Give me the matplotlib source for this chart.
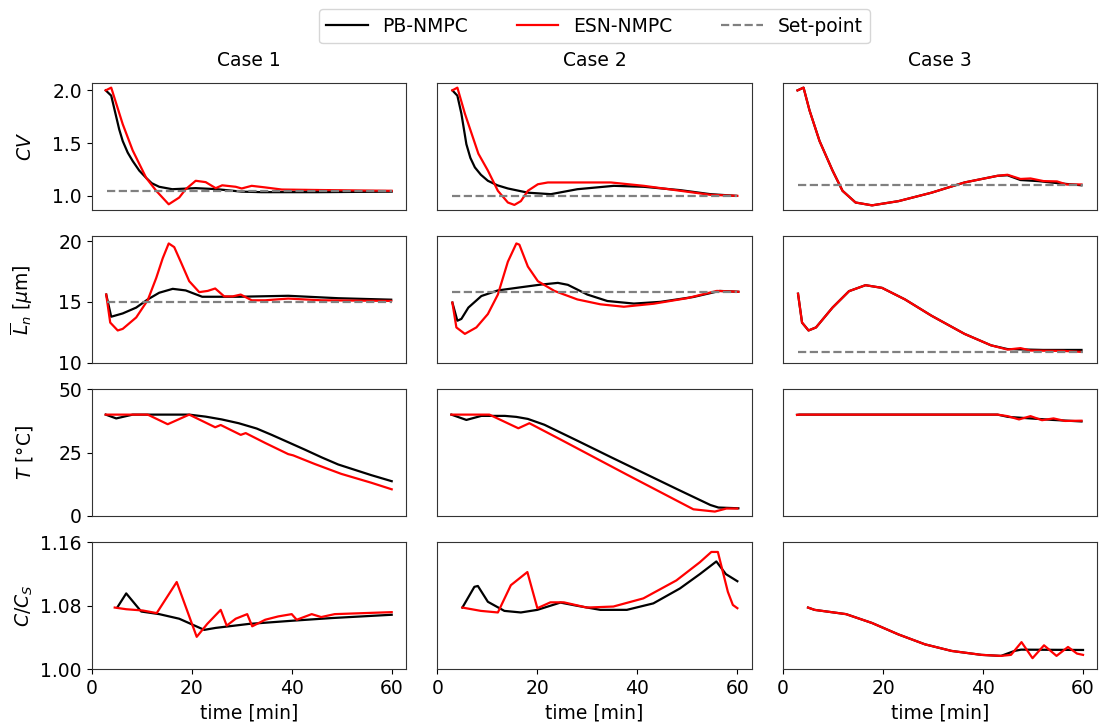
import numpy as np
import matplotlib
matplotlib.use("Agg")
import matplotlib.pyplot as plt
from matplotlib.ticker import FormatStrFormatter

# ---- Case 1 ----
t_cv1_pb = [2.8, 3.9, 4.9, 5.5, 6.2, 7.2, 8.2, 9.5, 10.9, 12, 13.5, 16.1, 20.8, 24.8, 30, 34, 45, 60]
cv1_pb = [2.0, 1.95, 1.75, 1.63, 1.52, 1.41, 1.33, 1.24, 1.17, 1.12, 1.086, 1.063, 1.073, 1.064, 1.04, 1.035,
          1.035, 1.04]
t_cv1_esn = [2.8, 3.9, 6.2, 8.2, 10.9, 12.9, 15.4, 17.5, 18.8, 20.8, 22.8, 24.8, 26.1, 28.8, 30, 32, 34.7, 38, 46, 60]
cv1_esn = [2.0, 2.026, 1.68, 1.43, 1.17, 1.048, 0.92, 0.984, 1.063, 1.143, 1.13, 1.073, 1.1, 1.086, 1.07, 1.095,
           1.08, 1.06, 1.055, 1.048]

t_ln1_pb = [2.9, 3.9, 6.2, 8.9, 11.2, 13.5, 16.2, 18.8, 22.1, 29.4, 39.3, 49.3, 59.9]
ln1_pb = [15.6, 13.78, 14.05, 14.53, 15.2, 15.75, 16.07, 15.94, 15.42, 15.42, 15.5, 15.3, 15.18]
t_ln1_esn = [2.9, 3.7, 5.2, 6.2, 8.9, 11.2, 12.9, 14.2, 15.4, 16.5, 17.8, 19.5, 21.5, 23.2, 24.7, 26.5, 28.2,
             29.8, 32, 34.7, 39.3, 45.9, 59.9]
ln1_esn = [15.6, 13.3, 12.65, 12.78, 13.72, 15.14, 16.96, 18.58, 19.8, 19.5, 18.3, 16.7, 15.8, 15.9, 16.1, 15.45,
           15.45, 15.6, 15.13, 15.13, 15.27, 15.13, 15.08]

t_T1_pb = [2.8, 4.9, 8.2, 19.5, 22.8, 26, 29.4, 33, 36, 39.3, 42.7, 46, 49.3, 55.9, 60]
T1_pb = [40, 38.5, 40, 40, 39.2, 38.1, 36.6, 34.5, 32, 29.1, 26.1, 23.1, 20.3, 16.1, 13.7]
t_T1_esn = [2.8, 11.2, 15.2, 19.5, 24.7, 25.8, 29.8, 30.8, 34.7, 39.3, 40.3, 44.6, 49.9, 55.9, 60]
T1_esn = [40, 40, 36.2, 40, 35, 35.9, 32, 32.7, 28.8, 24.4, 23.9, 20.5, 16.6, 13.1, 10.5]

t_c1_pb = [5.1, 6.9, 9.9, 13.5, 17.5, 20.2, 22.5, 24.8, 31.4, 40, 47.9, 60]
c1_pb = [1.0777, 1.0956, 1.0727, 1.0694, 1.0636, 1.056, 1.0495, 1.052, 1.057, 1.061, 1.0644, 1.0686]
t_c1_esn = [4.6, 6.9, 10.2, 13, 17, 21, 23.1, 25.8, 27, 28.8, 31.1, 32.1, 34.7, 37.3, 40, 41, 44, 45.9, 48.6,
            54.5, 60]
c1_esn = [1.0777, 1.0756, 1.074, 1.0707, 1.110, 1.0407, 1.057, 1.0748, 1.0549, 1.0636, 1.0694, 1.054, 1.0623,
          1.0665, 1.0694, 1.0623, 1.0694, 1.0657, 1.0694, 1.0707, 1.0719]

# ---- Case 2 ----
t_cv2_pb = [3, 4, 4.8, 5.8, 6.6, 7.5, 8.7, 10.1, 12, 14.1, 18.1, 22.7, 28, 35.3, 41.3, 48.6, 54.6, 59.8]
cv2_pb = [2.0, 1.95, 1.78, 1.49, 1.36, 1.27, 1.2, 1.143, 1.1, 1.07, 1.03, 1.016, 1.063, 1.095, 1.086, 1.054,
          1.016, 1.0]
t_cv2_esn = [3, 4, 5.5, 8.2, 10.1, 12.1, 14.1, 15.4, 16.7, 18.1, 20.1, 22.1, 34.7, 41.3, 48.6, 54.6, 60]
cv2_esn = [2.0, 2.026, 1.78, 1.40, 1.24, 1.048, 0.937, 0.914, 0.95, 1.048, 1.11, 1.127, 1.127, 1.095, 1.048,
           1.01, 1.0]

t_ln2_pb = [3, 4, 4.8, 6.2, 8.8, 12.1, 16.7, 20.7, 24.1, 26.1, 30, 34, 39.3, 44.6, 51.2, 56.5, 60.2]
ln2_pb = [14.94, 13.45, 13.6, 14.53, 15.48, 15.94, 16.2, 16.42, 16.56, 16.4, 15.6, 15.07, 14.86, 15.0, 15.4,
          15.9, 15.83]
t_ln2_esn = [3, 3.8, 5.5, 7.8, 10.1, 12.1, 14.1, 15.8, 16.4, 18.1, 20.1, 23.4, 28, 32.6, 37.3, 43.3, 49.9,
             55.9, 60.2]
ln2_esn = [14.94, 12.9, 12.37, 12.9, 14.0, 15.6, 18.3, 19.8, 19.7, 17.9, 16.7, 15.9, 15.2, 14.8, 14.6, 14.85,
           15.3, 15.9, 15.83]

t_T2_pb = [2.8, 5.8, 8.8, 13.5, 15.8, 18.1, 21.4, 28, 34.6, 41.3, 47.9, 54.6, 56.2, 60.2]
T2_pb = [40, 37.9, 39.5, 39.5, 39.1, 38.3, 36, 29.7, 23.3, 16.9, 10.6, 4.3, 3.3, 3]
t_T2_esn = [2.8, 10.4, 16.2, 18.4, 24.7, 31.3, 37.9, 44.6, 51.2, 55.5, 57.8, 60]
T2_esn = [40, 40, 34.6, 36.6, 30.1, 23.2, 16.3, 9.4, 2.6, 1.7, 2.9, 2.9]

t_c2_pb = [5, 7.4, 8.1, 10.1, 13.4, 16.7, 20, 24.6, 27.9, 32.6, 37.9, 43.2, 48.5, 52.5, 55.8, 57.7, 60]
c2_pb = [1.0777, 1.1039, 1.105, 1.085, 1.0735, 1.0715, 1.0748, 1.084, 1.080, 1.0748, 1.0748, 1.083, 1.1018,
         1.12, 1.136, 1.12, 1.111]
t_c2_esn = [5, 8.7, 12.1, 14.7, 18, 20, 22.6, 25.3, 29.9, 35.2, 41.2, 47.8, 52.5, 54.8, 56.1, 58.1, 59.1, 60]
c2_esn = [1.0777, 1.0735, 1.0715, 1.106, 1.1226, 1.0769, 1.0843, 1.0843, 1.0777, 1.079, 1.0893, 1.112, 1.135,
          1.148, 1.148, 1.0976, 1.081, 1.0769]

# ---- Case 3 ----
t_cv3_esn = [2.9, 4.1, 5.3, 7.3, 9.9, 11.9, 14.5, 17.8, 23.1, 29.7, 36.3, 42.9, 44.9, 47.5, 49.5, 52.1, 54.8,
             56.7, 59.7]
cv3_esn = [2.0, 2.026, 1.81, 1.52, 1.24, 1.048, 0.937, 0.91, 0.95, 1.03, 1.127, 1.19, 1.2, 1.16, 1.165, 1.14,
           1.137, 1.108, 1.108]
t_cv3_pb = [2.9, 4.1, 5.3, 7.3, 9.9, 11.9, 14.5, 17.8, 23.1, 29.7, 36.3, 42.9, 44.9, 47.5, 51, 55, 59.7]
cv3_pb = [2.0, 2.026, 1.81, 1.52, 1.24, 1.048, 0.937, 0.91, 0.95, 1.03, 1.127, 1.19, 1.195, 1.15, 1.14, 1.12,
          1.1]

t_ln3_esn = [3, 3.8, 5.1, 6.6, 9.9, 13.2, 16.5, 19.8, 24.4, 29.7, 36.3, 41.6, 44.9, 47.5, 49.5, 56.1, 59.7]
ln3_esn = [15.67, 13.3, 12.65, 12.9, 14.53, 15.88, 16.37, 16.15, 15.2, 13.86, 12.37, 11.43, 11.08, 11.2, 11.0,
           10.97, 10.89]
t_ln3_pb = [3, 3.8, 5.1, 6.6, 9.9, 13.2, 16.5, 19.8, 24.4, 29.7, 36.3, 41.6, 44.9, 47, 52, 59.7]
ln3_pb = [15.67, 13.3, 12.65, 12.9, 14.53, 15.88, 16.37, 16.15, 15.2, 13.86, 12.37, 11.43, 11.12, 11.1, 11.05,
          11.05]

t_T3_esn = [2.8, 3.3, 42.9, 44.9, 47.2, 49.5, 51.8, 54.1, 56.4, 59.7]
T3_esn = [39.9, 40, 40, 39.4, 38.1, 39.4, 37.8, 38.5, 37.5, 37.6]
t_T3_pb = [2.8, 3.3, 42.9, 45, 49.5, 54, 59.7]
T3_pb = [39.9, 40, 40, 39.1, 38.5, 37.9, 37.3]

t_c3_esn = [5, 6.3, 12.6, 17.8, 23.1, 28.4, 33.7, 39.7, 43.6, 45.6, 47.7, 49.9, 52.2, 54.7, 57, 58.8, 60]
c3_esn = [1.0777, 1.0748, 1.0694, 1.0582, 1.0437, 1.0312, 1.0229, 1.0179, 1.0166, 1.0179, 1.034, 1.0137, 1.03,
          1.0166, 1.0279, 1.0195, 1.0179]
t_c3_pb = [5, 6.3, 12.6, 17.8, 23.1, 28.4, 33.7, 39.7, 43.6, 46.3, 47.6, 60]
c3_pb = [1.0777, 1.0748, 1.0694, 1.0582, 1.0437, 1.0312, 1.0229, 1.0179, 1.0166, 1.0229, 1.0245, 1.0241]

# set-points (CV, Ln) for each case, drawn from t=3 to t=60
sp_time = [3, 60]
sp_cv = [1.05, 1.0, 1.1]
sp_ln = [15.0, 15.8, 10.9]

case_titles = ['Case 1', 'Case 2', 'Case 3']
row_labels = [r'$CV$', r'$\overline{L}_n$ [$\mu$m]', r'$T$ [°C]', r'$C/C_S$']
row_ylims = [(0.87, 2.07), (10, 20.4), (0, 50), (1.0, 1.16)]
row_yticks = [[1.0, 1.5, 2.0], [10, 15, 20], [0, 25, 50], [1.00, 1.08, 1.16]]

pb = [
    [(t_cv1_pb, cv1_pb), (t_cv2_pb, cv2_pb), (t_cv3_pb, cv3_pb)],
    [(t_ln1_pb, ln1_pb), (t_ln2_pb, ln2_pb), (t_ln3_pb, ln3_pb)],
    [(t_T1_pb, T1_pb), (t_T2_pb, T2_pb), (t_T3_pb, T3_pb)],
    [(t_c1_pb, c1_pb), (t_c2_pb, c2_pb), (t_c3_pb, c3_pb)],
]
esn = [
    [(t_cv1_esn, cv1_esn), (t_cv2_esn, cv2_esn), (t_cv3_esn, cv3_esn)],
    [(t_ln1_esn, ln1_esn), (t_ln2_esn, ln2_esn), (t_ln3_esn, ln3_esn)],
    [(t_T1_esn, T1_esn), (t_T2_esn, T2_esn), (t_T3_esn, T3_esn)],
    [(t_c1_esn, c1_esn), (t_c2_esn, c2_esn), (t_c3_esn, c3_esn)],
]
setpoints = [sp_cv, sp_ln, None, None]

plt.rcParams['font.size'] = 13.5
fig, axes = plt.subplots(4, 3, figsize=(11.05, 7.28), dpi=100, sharex=True)
fig.subplots_adjust(left=0.083, right=0.993, top=0.886, bottom=0.081, wspace=0.1, hspace=0.21)

for r in range(4):
    for c in range(3):
        ax = axes[r, c]
        l1, = ax.plot(*pb[r][c], color='black', lw=1.6, label='PB-NMPC')
        l2, = ax.plot(*esn[r][c], color='red', lw=1.6, label='ESN-NMPC')
        if setpoints[r] is not None:
            l3, = ax.plot(sp_time, [setpoints[r][c]] * 2, color='gray', ls='--', lw=1.6, label='Set-point')
        ax.set_ylim(row_ylims[r])
        ax.set_yticks(row_yticks[r])
        ax.set_xlim(0.15, 62.85)
        ax.set_xticks([0, 20, 40, 60])
        for s in ax.spines.values():
            s.set_color('#333333')
        if c == 0:
            ax.set_ylabel(row_labels[r])
        else:
            ax.tick_params(left=False, labelleft=False)
        if r < 3:
            ax.tick_params(bottom=False, labelbottom=False)
        else:
            ax.set_xlabel('time [min]')
        if r == 0:
            ax.set_title(case_titles[c], fontsize=13.5, pad=12)

axes[3, 0].yaxis.set_major_formatter(FormatStrFormatter('%.2f'))
axes[0, 0].yaxis.set_major_formatter(FormatStrFormatter('%.1f'))
fig.align_ylabels(axes[:, 0])

fig.legend(handles=[l1, l2, l3], loc='upper center', ncol=3, bbox_to_anchor=(0.538, 1.0),
           fontsize=13.5, columnspacing=2.6, handlelength=2.2)

fig.savefig('out.png', dpi=100)
